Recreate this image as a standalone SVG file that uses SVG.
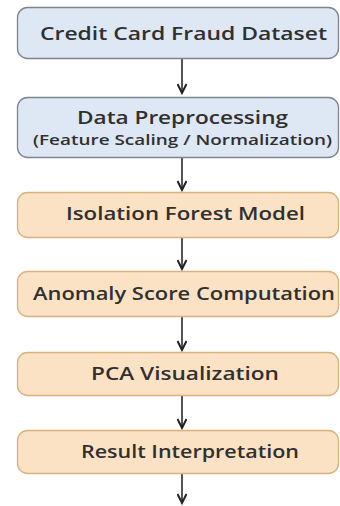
<svg xmlns="http://www.w3.org/2000/svg" width="340" height="506" viewBox="0 0 340 506">
<defs>
<marker id="ah" markerWidth="12" markerHeight="10" refX="10" refY="5" orient="auto" markerUnits="userSpaceOnUse">
<path d="M1,0.5 L10,5 L1,9.5" fill="none" stroke="#222" stroke-width="2"/>
</marker>
<style>
.blue{fill:#dde8f4;stroke:#7d848d;stroke-width:1.3}
.orange{fill:#fbe2c4;stroke:#d8b27e;stroke-width:1.3}
.t{font-family:"Open Sans","DejaVu Sans",sans-serif;font-weight:600;font-size:18px;fill:#303030;text-anchor:middle}
.s{font-family:"Open Sans","DejaVu Sans",sans-serif;font-weight:600;font-size:14.5px;fill:#303030;text-anchor:middle}
.c{stroke:#2a2a2a;stroke-width:1.6;fill:none}
</style>
</defs>
<rect width="340" height="506" fill="#ffffff"/>
<g id="connectors">
<line class="c" x1="182" y1="58" x2="182" y2="93" marker-end="url(#ah)"/>
<line class="c" x1="182" y1="157" x2="182" y2="190" marker-end="url(#ah)"/>
<line class="c" x1="182" y1="237" x2="182" y2="269" marker-end="url(#ah)"/>
<line class="c" x1="182" y1="316" x2="182" y2="350" marker-end="url(#ah)"/>
<line class="c" x1="182" y1="395" x2="182" y2="428" marker-end="url(#ah)"/>
<line class="c" x1="182" y1="473" x2="182" y2="503" marker-end="url(#ah)"/>
</g>
<g id="n1">
<rect class="blue" x="17.5" y="7.5" width="321" height="51" rx="10"/>
<text class="t" x="183.5" y="39.5" textLength="287" lengthAdjust="spacingAndGlyphs">Credit Card Fraud Dataset</text>
</g>
<g id="n2">
<rect class="blue" x="17.5" y="97.5" width="321" height="60" rx="10"/>
<text class="t" x="182.5" y="123.5" textLength="211" lengthAdjust="spacingAndGlyphs">Data Preprocessing</text>
<text class="s" x="182.5" y="144.5" textLength="299" lengthAdjust="spacingAndGlyphs">(Feature Scaling / Normalization)</text>
</g>
<g id="n3">
<rect class="orange" x="17.5" y="192.5" width="321" height="45" rx="10"/>
<text class="t" x="185.5" y="220" textLength="239" lengthAdjust="spacingAndGlyphs">Isolation Forest Model</text>
</g>
<g id="n4">
<rect class="orange" x="17.5" y="271.5" width="321" height="45" rx="10"/>
<text class="t" x="184" y="299.5" textLength="302" lengthAdjust="spacingAndGlyphs">Anomaly Score Computation</text>
</g>
<g id="n5">
<rect class="orange" x="17.5" y="352.5" width="321" height="43" rx="10"/>
<text class="t" x="185" y="380" textLength="188" lengthAdjust="spacingAndGlyphs">PCA Visualization</text>
</g>
<g id="n6">
<rect class="orange" x="17.5" y="430.5" width="321" height="43" rx="10"/>
<text class="t" x="190" y="457.5" textLength="218" lengthAdjust="spacingAndGlyphs">Result Interpretation</text>
</g>
</svg>
